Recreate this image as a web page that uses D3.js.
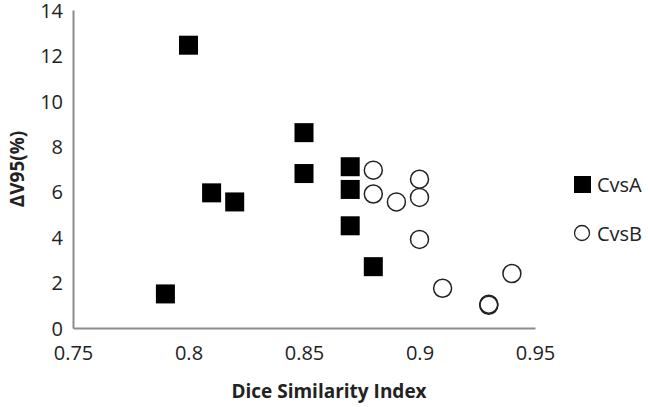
<!DOCTYPE html>
<html>
<head>
<meta charset="utf-8">
<script src="https://cdn.jsdelivr.net/npm/d3@7"></script>
<style>
  body { margin: 0; background: #fff; }
  text { font-family: "Open Sans", Lato, sans-serif; fill: #222; }
</style>
</head>
<body>
<div id="chart"></div>
<script>
var width = 648, height = 407;

// CvsA : filled squares
var cvsA_x = [0.80, 0.81, 0.82, 0.79, 0.85, 0.85, 0.87, 0.87, 0.87, 0.88];
var cvsA_y = [12.45, 5.95, 5.55, 1.5, 8.6, 6.8, 7.1, 6.1, 4.5, 2.7];

// CvsB : open circles
var cvsB_x = [0.88, 0.88, 0.89, 0.90, 0.90, 0.90, 0.91, 0.93, 0.93, 0.94];
var cvsB_y = [6.95, 5.9, 5.55, 6.55, 5.75, 3.9, 1.75, 1.05, 1.0, 2.4];

var xTicks = [0.75, 0.8, 0.85, 0.9, 0.95];
var yTicks = [0, 2, 4, 6, 8, 10, 12, 14];
var seriesNames = ["CvsA", "CvsB"];

var svg = d3.select("#chart").append("svg")
    .attr("width", width)
    .attr("height", height);

var x = d3.scaleLinear().domain([0.75, 0.95]).range([73, 535]);
var y = d3.scaleLinear().domain([0, 14]).range([328, 10]);

// axes (no tick marks, grey lines)
var xAxis = svg.append("g")
    .attr("transform", "translate(0," + y(0) + ")")
    .call(d3.axisBottom(x).tickValues(xTicks).tickSize(0).tickPadding(18)
        .tickFormat(function(d){ return String(+d.toFixed(2)); }));
var yAxis = svg.append("g")
    .attr("transform", "translate(" + x(0.75) + ",0)")
    .call(d3.axisLeft(y).tickValues(yTicks).tickSize(0).tickPadding(10));

[xAxis, yAxis].forEach(function(g){
    g.select(".domain").attr("stroke", "#8c8c8c").attr("stroke-width", 2);
    g.selectAll("text").attr("font-size", 20).attr("fill", "#222")
        .attr("font-family", "'Open Sans', sans-serif");
});
yAxis.selectAll("text").attr("dy", "0.36em");

// axis titles
svg.append("text")
    .attr("x", 329).attr("y", 398)
    .attr("text-anchor", "middle")
    .attr("font-size", 19).attr("font-weight", "bold")
    .text("Dice Similarity Index");

svg.append("text")
    .attr("transform", "translate(24,169) rotate(-90)")
    .attr("text-anchor", "middle")
    .attr("font-size", 19).attr("font-weight", "bold")
    .text("ΔV95(%)");

// squares
var sq = 19;
svg.selectAll("rect.cvsa")
    .data(d3.range(cvsA_x.length))
    .enter().append("rect")
    .attr("class", "cvsa")
    .attr("x", function(i){ return x(cvsA_x[i]) - sq / 2; })
    .attr("y", function(i){ return y(cvsA_y[i]) - sq / 2; })
    .attr("width", sq).attr("height", sq)
    .attr("fill", "#000");

// circles
svg.selectAll("circle.cvsb")
    .data(d3.range(cvsB_x.length))
    .enter().append("circle")
    .attr("class", "cvsb")
    .attr("cx", function(i){ return x(cvsB_x[i]); })
    .attr("cy", function(i){ return y(cvsB_y[i]); })
    .attr("r", 9)
    .attr("fill", "none")
    .attr("stroke", "#222")
    .attr("stroke-width", 1.5);

// legend
var legend = svg.append("g");
legend.append("rect")
    .attr("x", 574).attr("y", 176)
    .attr("width", 17).attr("height", 17)
    .attr("fill", "#000");
legend.append("circle")
    .attr("cx", 582).attr("cy", 233)
    .attr("r", 7.5)
    .attr("fill", "none").attr("stroke", "#222").attr("stroke-width", 1.3);
legend.selectAll("text")
    .data(seriesNames)
    .enter().append("text")
    .attr("x", 597)
    .attr("y", function(d, i){ return 184.5 + i * 49; })
    .attr("dy", "0.36em")
    .attr("font-size", 20)
    .text(function(d){ return d; });
</script>
</body>
</html>
